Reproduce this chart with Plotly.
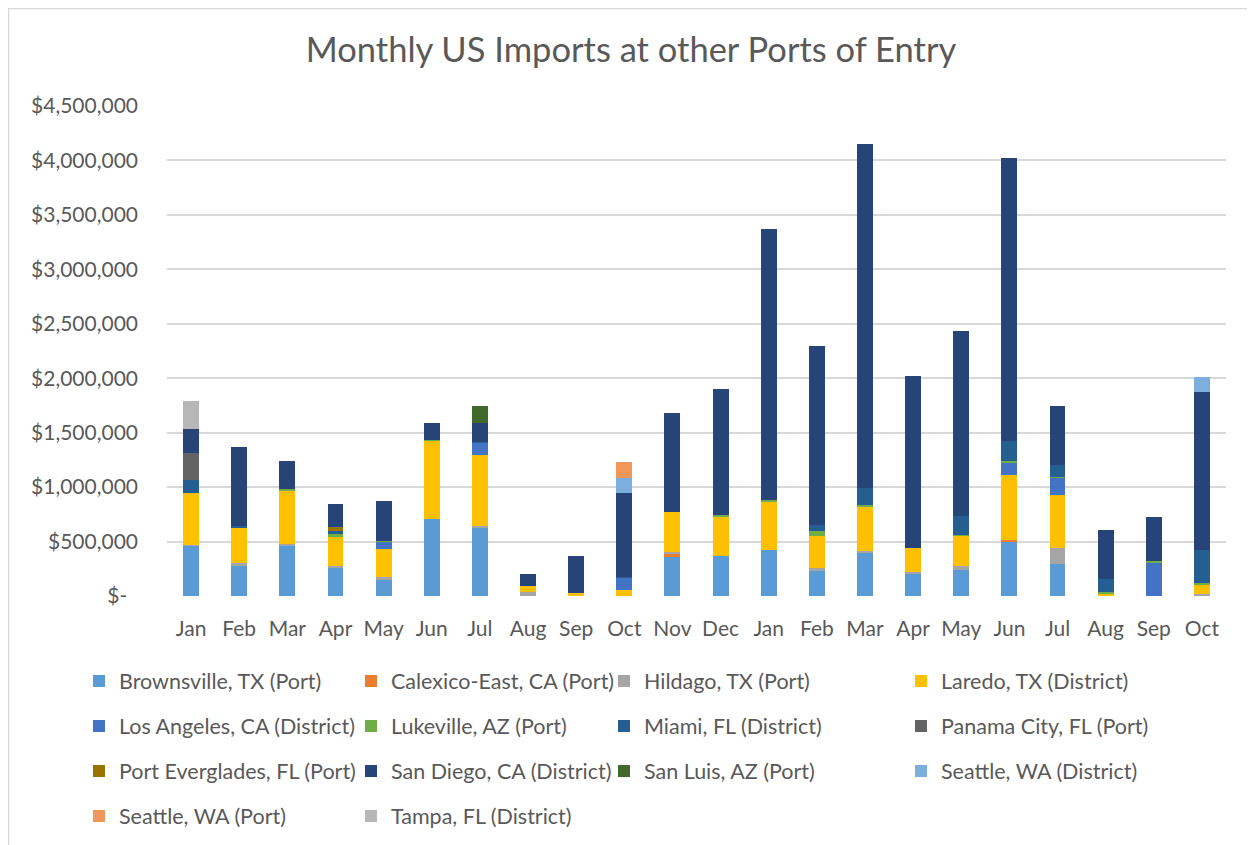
import plotly.graph_objects as go

months = ["Jan", "Feb", "Mar", "Apr", "May", "Jun", "Jul", "Aug", "Sep", "Oct", "Nov", "Dec",
          "Jan", "Feb", "Mar", "Apr", "May", "Jun", "Jul", "Aug", "Sep", "Oct"]

# values in thousands of dollars
brownsville = [462, 279, 462, 263, 150, 705, 628, 0, 0, 0, 361, 364, 422, 226, 395, 202, 239, 502, 294, 0, 0, 0]
calexico = [0, 0, 0, 0, 0, 0, 0, 0, 0, 0, 31, 0, 0, 0, 0, 0, 0, 12, 0, 0, 0, 0]
hildago = [10, 21, 18, 12, 28, 0, 18, 40, 0, 0, 9, 0, 0, 28, 15, 15, 34, 0, 144, 0, 0, 15]
laredo = [478, 328, 490, 270, 254, 720, 653, 55, 25, 58, 374, 367, 438, 300, 413, 226, 278, 594, 487, 24, 0, 92]
los_angeles = [0, 0, 0, 0, 67, 0, 110, 0, 0, 110, 0, 0, 0, 0, 0, 0, 0, 122, 159, 0, 312, 0]
lukeville = [0, 0, 9, 21, 6, 9, 0, 0, 0, 0, 0, 12, 24, 40, 15, 0, 9, 12, 12, 9, 9, 15]
miami = [119, 18, 0, 31, 0, 0, 6, 0, 0, 9, 0, 0, 0, 61, 156, 0, 177, 181, 110, 122, 0, 303]
panama_city = [248, 0, 0, 0, 0, 0, 0, 0, 0, 0, 0, 0, 0, 0, 0, 0, 0, 0, 0, 0, 0, 0]
port_everglades = [0, 0, 0, 40, 0, 0, 0, 0, 0, 0, 0, 0, 0, 0, 0, 0, 0, 0, 0, 0, 0, 0]
san_diego = [221, 726, 257, 208, 365, 159, 172, 104, 346, 772, 904, 1157, 2482, 1640, 3158, 1582, 1695, 2595, 536, 447, 404, 1447]
san_luis = [0, 0, 0, 0, 0, 0, 159, 0, 0, 0, 0, 0, 0, 0, 0, 0, 0, 0, 0, 0, 0, 0]
seattle_district = [0, 0, 0, 0, 0, 0, 0, 0, 0, 138, 0, 0, 0, 0, 0, 0, 0, 0, 0, 0, 0, 141]
seattle_port = [0, 0, 0, 0, 0, 0, 0, 0, 0, 144, 0, 0, 0, 0, 0, 0, 0, 0, 0, 0, 0, 0]
tampa = [251, 0, 0, 0, 0, 0, 0, 0, 0, 0, 0, 0, 0, 0, 0, 0, 0, 0, 0, 0, 0, 0]

series_names = ["Brownsville, TX (Port)", "Calexico-East, CA (Port)", "Hildago, TX (Port)", "Laredo, TX (District)",
                "Los Angeles, CA (District)", "Lukeville, AZ (Port)", "Miami, FL (District)", "Panama City, FL (Port)",
                "Port Everglades, FL (Port)", "San Diego, CA (District)", "San Luis, AZ (Port)", "Seattle, WA (District)",
                "Seattle, WA (Port)", "Tampa, FL (District)"]
series_values = [brownsville, calexico, hildago, laredo, los_angeles, lukeville, miami, panama_city,
                 port_everglades, san_diego, san_luis, seattle_district, seattle_port, tampa]
colors = ["#5B9BD5", "#ED7D31", "#A5A5A5", "#FFC000", "#4472C4", "#70AD47", "#255E91", "#636363",
          "#997300", "#264478", "#43682B", "#7CAFDD", "#F1975A", "#B7B7B7"]

y_tickvals = [0, 500000, 1000000, 1500000, 2000000, 2500000, 3000000, 3500000, 4000000, 4500000]
y_ticktext = ["$-\u00a0\u00a0", "$500,000", "$1,000,000", "$1,500,000", "$2,000,000", "$2,500,000",
              "$3,000,000", "$3,500,000", "$4,000,000", "$4,500,000"]

FONT = "Lato"
GRAY = "#595959"
OFF = 8                      # page body margin around the figure
W, H = 1255 - OFF, 845 - OFF
L, R, T, B = 167 - OFF, 29, 106 - OFF, 249

# legend grid (page pixel positions of swatch left edges / row centres)
col_x = [95, 367, 620, 917]
row_y = [681, 726, 771, 816]

fig = go.Figure()
x_idx = list(range(len(months)))
legend_layouts = {}
for i, (name, vals, col) in enumerate(zip(series_names, series_values, colors)):
    lname = "legend" if i == 0 else f"legend{i + 1}"
    fig.add_trace(go.Bar(
        x=x_idx, y=[v * 1000 for v in vals], name=name,
        marker=dict(color=col, line=dict(width=0)),
        legend=lname,
    ))
    r, c = divmod(i, 4)
    legend_layouts[lname] = dict(
        xref="container", yref="container",
        x=(col_x[c] - OFF - 16) / W, y=1 - (row_y[r] - OFF) / H,
        xanchor="left", yanchor="middle",
        orientation="h", bgcolor="rgba(0,0,0,0)", borderwidth=0,
        font=dict(family=FONT, size=21.5, color=GRAY),
        itemclick=False, itemdoubleclick=False,
    )

fig.update_layout(
    width=W, height=H,
    margin=dict(l=L, r=R, t=T, b=B),
    paper_bgcolor="white", plot_bgcolor="white",
    barmode="stack", bargap=0.67,
    showlegend=True,
    title=dict(text="Monthly US Imports at other Ports of Entry", x=(631 - OFF) / W, xref="container",
               y=1 - (50 - OFF) / H, yref="container", xanchor="center", yanchor="middle",
               font=dict(family=FONT, size=34.5, color=GRAY)),
    font=dict(family=FONT, color=GRAY),
    xaxis=dict(tickvals=x_idx, ticktext=months, range=[-0.5, len(months) - 0.5],
               showgrid=False, zeroline=False, showline=False, ticks="",
               tickfont=dict(family=FONT, size=21, color=GRAY), ticklabelstandoff=18),
    yaxis=dict(range=[0, 4500000], tickvals=y_tickvals, ticktext=y_ticktext,
               showgrid=True, gridcolor="#D9D9D9", gridwidth=1.5, zeroline=False, showline=False,
               ticks="", tickfont=dict(family=FONT, size=21, color=GRAY), ticklabelstandoff=28),
    **legend_layouts,
)

pw, ph = W - L - R, H - T - B
x_left, x_right = (0.5 - L) / pw, (W - 1 - L) / pw
y_top, y_bot = (H - B - 0.5) / ph, (H - B - H - 20) / ph
fig.add_shape(type="path", xref="paper", yref="paper",
              path=f"M {x_left} {y_bot} L {x_left} {y_top} L {x_right} {y_top} L {x_right} {y_bot}",
              line=dict(color="#D9D9D9", width=1.5), layer="below")

fig.write_html("out.html")
